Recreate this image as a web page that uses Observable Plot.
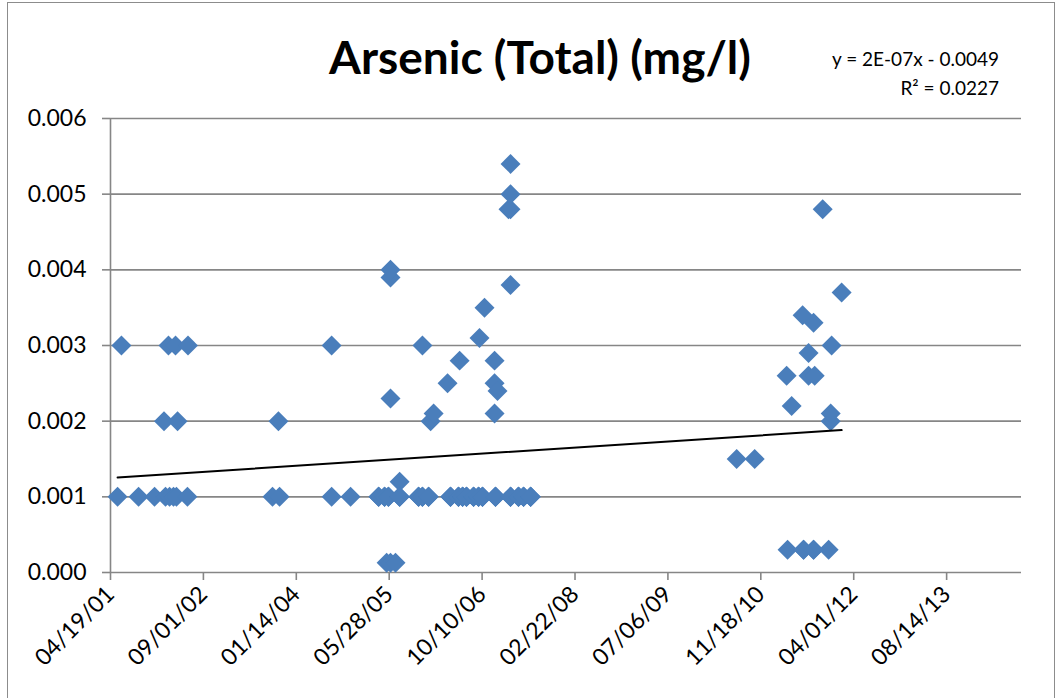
<!DOCTYPE html>
<html>
<head>
<meta charset="utf-8">
<script src="https://cdn.jsdelivr.net/npm/d3@7"></script>
<script src="https://cdn.jsdelivr.net/npm/@observablehq/plot@0.6"></script>
<style>
  html, body { margin: 0; padding: 0; background: #fff; }
  #wrap { position: relative; width: 1062px; height: 698px; overflow: hidden; font-family: Lato, "Open Sans", sans-serif; }
  #border { position: absolute; left: 7px; top: 2px; width: 1048px; height: 710px; border: 1px solid #8c8c8c; box-sizing: border-box; }
  #title { position: absolute; left: 240px; width: 600px; top: 34px; text-align: center; font-weight: bold; font-size: 46px; line-height: 46px; color: #000; }
  #eq { position: absolute; right: 63px; top: 44px; text-align: right; font-size: 19px; line-height: 29px; color: #000; }
  #chart { position: absolute; left: 0; top: 0; }
</style>
</head>
<body>
<div id="wrap">
  <div id="border"></div>
  <div id="chart"></div>
  <div id="title">Arsenic (Total) (mg/l)</div>
  <div id="eq">y = 2E-07x - 0.0049<br>R² = 0.0227</div>
</div>
<script>
// ---- data ----
// clearly visible samples
const sampleDates = [
  "2001-05-27","2001-06-17","2001-09-17","2001-12-12","2002-02-01","2002-02-09","2002-02-25","2002-03-03",
  "2002-03-24","2002-04-04","2002-04-09","2002-04-15","2002-06-07","2002-06-10","2003-09-08","2003-10-10",
  "2003-10-16","2004-07-22","2004-07-22","2004-11-01","2005-04-01","2005-05-03","2005-05-14","2005-05-24",
  "2005-06-04","2005-06-04","2005-06-04","2005-06-04","2005-07-01","2005-07-23","2005-07-23","2005-11-02",
  "2005-11-23","2005-11-23","2005-12-26","2006-01-06","2006-01-22","2006-04-07","2006-04-23","2006-06-05",
  "2006-06-11","2006-06-27","2006-07-18","2006-08-25","2006-09-21","2006-09-26","2006-10-12","2006-10-23",
  "2006-12-16","2006-12-16","2006-12-16","2006-12-21","2007-01-01","2007-03-01","2007-03-12","2007-03-12",
  "2007-03-12","2007-03-12","2007-03-12","2007-04-24","2007-05-21","2007-06-28","2010-07-11","2010-10-16",
  "2011-04-06","2011-04-11","2011-05-03","2011-07-01","2011-07-06","2011-08-02","2011-08-02","2011-08-29",
  "2011-08-29","2011-09-04","2011-10-17","2011-11-18","2011-11-29","2011-11-29","2011-12-04","2012-01-27"
];
const arsenicValues = [
  0.001, 0.003, 0.001, 0.001, 0.002, 0.001, 0.003, 0.001,
  0.001, 0.003, 0.001, 0.002, 0.001, 0.003, 0.001, 0.002,
  0.001, 0.001, 0.003, 0.001, 0.001, 0.001, 0.00013, 0.001,
  0.00013, 0.0023, 0.0039, 0.004, 0.00013, 0.001, 0.0012, 0.001,
  0.001, 0.003, 0.001, 0.002, 0.0021, 0.0025, 0.001, 0.001,
  0.0028, 0.001, 0.001, 0.001, 0.001, 0.0031, 0.001, 0.0035,
  0.0028, 0.0025, 0.0021, 0.001, 0.0024, 0.0048, 0.0048, 0.005,
  0.0054, 0.0038, 0.001, 0.001, 0.001, 0.001, 0.0015, 0.0015,
  0.0026, 0.0003, 0.0022, 0.0034, 0.0003, 0.0026, 0.0029, 0.0033,
  0.0003, 0.0026, 0.0048, 0.0003, 0.002, 0.0021, 0.003, 0.0037
];
// further samples at 0.001 hidden under the overlapping diamonds of 2005-2007 (estimated)
const bandDates = [
  "2005-04-01","2005-04-01","2005-05-03","2005-05-03","2005-05-24","2005-05-24","2005-07-23","2005-07-23",
  "2005-11-02","2005-11-02","2005-11-23","2005-11-23","2005-12-26","2005-12-26",
  "2006-04-23","2006-04-23","2006-04-23","2006-06-05","2006-06-05","2006-06-05","2006-06-27","2006-06-27",
  "2006-06-27","2006-07-18","2006-07-18","2006-07-18","2006-08-25","2006-08-25","2006-08-25","2006-09-21",
  "2006-09-21","2006-09-21","2006-10-12","2006-10-12","2006-10-12","2006-12-21","2006-12-21","2006-12-21",
  "2007-03-12","2007-03-12","2007-03-12","2007-04-24","2007-04-24","2007-04-24","2007-05-21","2007-05-21",
  "2007-05-21","2007-06-28","2007-06-28","2007-06-28"
];
const bandValue = 0.001;
// overlapping low results in 2011 (estimated)
const lowDates = ["2011-07-06", "2011-08-29"];
const lowValue = 0.0003;

const xTickLabels = ["04/19/01","09/01/02","01/14/04","05/28/05","10/10/06","02/22/08","07/06/09","11/18/10","04/01/12","08/14/13"];
const xDomainLabels = ["04/19/01", "09/21/14"];
const yTickValues = [0, 0.001, 0.002, 0.003, 0.004, 0.005, 0.006];

// ---- build ----
const parseISO = d3.utcParse("%Y-%m-%d");
const parseTick = d3.utcParse("%m/%d/%y");
const data = [
  ...sampleDates.map((d, i) => ({date: parseISO(d), value: arsenicValues[i]})),
  ...bandDates.map(d => ({date: parseISO(d), value: bandValue})),
  ...lowDates.map(d => ({date: parseISO(d), value: lowValue}))
];
const tickDates = xTickLabels.map(parseTick);
const xDomain = xDomainLabels.map(parseTick);

// least-squares linear trendline computed from the data
const xs = data.map(d => +d.date), ys = data.map(d => d.value);
const mx = d3.mean(xs), my = d3.mean(ys);
const slope = d3.sum(xs, (x, i) => (x - mx) * (ys[i] - my)) / d3.sum(xs, x => (x - mx) ** 2);
const intercept = my - slope * mx;
const trend = d3.extent(xs).map(x => ({date: new Date(x), value: intercept + slope * x}));

const gridColor = "#868686";
const chart = Plot.plot({
  width: 1062,
  height: 698,
  marginLeft: 110,
  marginRight: 41,
  marginTop: 118,
  marginBottom: 126,
  style: {fontFamily: "Lato, 'Open Sans', sans-serif", fontSize: "23px", color: "#000", background: "transparent", overflow: "visible"},
  x: {type: "utc", domain: xDomain},
  y: {domain: [0, 0.006]},
  marks: [
    Plot.gridY(yTickValues, {stroke: gridColor, strokeOpacity: 1, strokeWidth: 1.6}),
    Plot.ruleX([xDomain[0]], {stroke: gridColor, strokeWidth: 1.6}),
    Plot.axisY({ticks: yTickValues, tickFormat: d3.format(".3f"), tickSize: 8, tickPadding: 16, stroke: gridColor, strokeWidth: 1.6, fill: "#000", label: null}),
    Plot.axisX({ticks: tickDates, tickFormat: d3.utcFormat("%m/%d/%y"), tickRotate: -45, tickSize: 8, tickPadding: 10, stroke: gridColor, strokeWidth: 1.6, fill: "#000", label: null}),
    Plot.dot(data, {x: "date", y: "value", symbol: "diamond2", r: 9, fill: "#4A7EBB", stroke: "none"}),
    Plot.line(trend, {x: "date", y: "value", stroke: "#000", strokeWidth: 2})
  ]
});
document.getElementById("chart").appendChild(chart);
</script>
</body>
</html>
